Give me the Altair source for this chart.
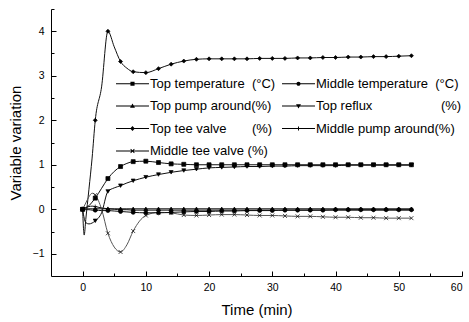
import altair as alt
import pandas as pd

# ---------------- data ----------------
T = [0, 0.25, 0.5, 1, 1.5, 2, 3, 4, 5, 6, 7, 8,
     10, 12, 14, 16, 18, 20, 22, 24, 26, 28, 30, 32, 34, 36, 38, 40,
     42, 44, 46, 48, 50, 52]

NB = "\u00a0"
# legend order (filled column by column: left column first)
series_names = [
    "Top temperature" + NB * 2 + "(°C)",
    "Top pump around(%)",
    "Top tee valve" + NB * 7 + "(%)",
    "Middle tee valve (%)",
    "Middle temperature" + NB * 2 + "(°C)",
    "Top reflux" + NB * 19 + "(%)",
    "Middle pump around(%)",
]

top_temperature = [0, 0.01, 0.03, 0.08, 0.16, 0.25, 0.47, 0.69, 0.85, 0.96, 1.03, 1.07,
                   1.08, 1.05, 1.02, 1.01, 1.0, 1.0, 1.0, 1.0, 1.0, 1.0, 1.0, 1.0,
                   1.0, 1.0, 1.0, 1.0, 1.0, 1.0, 1.0, 1.0, 1.0, 1.0]
top_pump_around = [0, 0, 0.01, 0.01, 0.01, 0.01, 0.01, 0.01, 0.01, 0.01, 0.01, 0.01,
                   0.01, 0.01, 0.01, 0.01, 0.01, 0.01, 0.01, 0.01, 0.01, 0.01, 0.01, 0.01,
                   0.01, 0.01, 0.01, 0.01, 0.01, 0.01, 0.01, 0.01, 0.01, 0.01]
top_tee_valve = [0, -0.58, -0.23, 0.45, 1.15, 2.0, 2.75, 4.0, 3.65, 3.32, 3.17, 3.09,
                 3.07, 3.16, 3.26, 3.33, 3.37, 3.38, 3.38, 3.38, 3.38, 3.39, 3.39, 3.39,
                 3.40, 3.40, 3.41, 3.41, 3.42, 3.42, 3.43, 3.43, 3.44, 3.45]
middle_tee_valve = [0, 0.07, 0.14, 0.28, 0.36, 0.32, 0.0, -0.54, -0.85, -0.96, -0.80, -0.49,
                    -0.14, -0.07, -0.08, -0.13, -0.14, -0.13, -0.12, -0.12, -0.13, -0.14,
                    -0.14, -0.15, -0.16, -0.16, -0.17, -0.18, -0.18, -0.19, -0.19, -0.20,
                    -0.20, -0.20]
middle_temperature = [0, 0, -0.01, -0.01, -0.02, -0.02, -0.03, -0.03, -0.04, -0.05, -0.06, -0.07,
                      -0.08, -0.08, -0.07, -0.06, -0.05, -0.05, -0.04, -0.04, -0.03, -0.03,
                      -0.03, -0.02, -0.02, -0.02, -0.02, -0.01, -0.01, -0.01, -0.01, -0.01,
                      -0.01, -0.01]
top_reflux = [0, -0.2, -0.3, -0.33, -0.31, -0.26, -0.08, 0.40, 0.48, 0.53, 0.59, 0.64,
              0.72, 0.78, 0.83, 0.87, 0.90, 0.93, 0.94, 0.95, 0.96, 0.96, 0.97, 0.97,
              0.98, 0.98, 0.98, 0.98, 0.99, 0.99, 0.99, 0.99, 0.99, 0.99]
middle_pump_around = [0, 0.02, 0.04, 0.06, 0.07, 0.06, 0.03, 0.01, 0.0, -0.01, -0.01, -0.02,
                      -0.02, -0.02, -0.02, -0.02, -0.02, -0.02, -0.02, -0.02, -0.02, -0.02,
                      -0.02, -0.02, -0.02, -0.02, -0.02, -0.02, -0.02, -0.02, -0.02, -0.02,
                      -0.02, -0.02]

x_major = [0, 10, 20, 30, 40, 50, 60]
x_minor = [5, 15, 25, 35, 45, 55]
y_major = [-1, 0, 1, 2, 3, 4]
y_minor = [-0.5, 0.5, 1.5, 2.5, 3.5, 4.5]

all_series = [top_temperature, top_pump_around, top_tee_valve, middle_tee_valve,
              middle_temperature, top_reflux, middle_pump_around]
rows = []
for name, vals in zip(series_names, all_series):
    for t, v in zip(T, vals):
        rows.append({"t": t, "value": v, "series": name})
df = pd.DataFrame(rows)

# ---------------- styling ----------------
W, H = 411, 267
FONT = "Liberation Sans"

xscale = alt.Scale(domain=[-5, 60], nice=False, zero=False)
yscale = alt.Scale(domain=[-1.5, 4.5], nice=False, zero=False)

line_colors = ["#111111", "#111111", "#111111", "#555555", "#111111", "#111111", "#111111"]
marker_shapes = ["square", "triangle-up", "diamond", "M-1,-1L1,1M-1,1L1,-1",
                 "circle", "triangle-down", "M-1,0H1M0,-1V1"]
# all sub-paths drawn clockwise so that nothing punches holes (nonzero fill)
BAR = "M-4,-0.12H4V0.12H-4Z"
legend_paths = [
    BAR + "M-0.5,-0.5H0.5V0.5H-0.5Z",
    BAR + "M0,-0.6L0.6,0.45H-0.6Z",
    BAR + "M0,-0.6L0.55,0L0,0.6L-0.55,0Z",
    BAR + "M0.38,0.52L-0.52,-0.38L-0.38,-0.52L0.52,0.38Z"
          "M0.52,-0.38L-0.38,0.52L-0.52,0.38L0.38,-0.52Z",
    BAR + "M-0.5,0A0.5,0.5 0 1,1 0.5,0A0.5,0.5 0 1,1 -0.5,0Z",
    BAR + "M0,0.6L-0.6,-0.45H0.6Z",
    BAR + "M-0.12,-0.5H0.12V0.5H-0.12Z",
]

lines = alt.Chart(df).mark_line(interpolate="monotone", strokeWidth=1).encode(
    x=alt.X("t:Q", scale=xscale,
            axis=alt.Axis(values=x_major, ticks=False, tickSize=0, grid=False,
                          domainColor="black", domainWidth=1, labelPadding=6,
                          labelFontSize=10.5, labelColor="black", title="Time (min)",
                          titleFontSize=15, titleFontWeight="normal", titleColor="black",
                          titlePadding=10)),
    y=alt.Y("value:Q", scale=yscale,
            axis=alt.Axis(values=y_major, ticks=False, tickSize=0, grid=False,
                          domainColor="black", domainWidth=1, labelPadding=7,
                          labelFontSize=10.5, labelColor="black",
                          title="Variable variation", titleFontSize=15,
                          titleFontWeight="normal", titleColor="black", titlePadding=9)),
    color=alt.Color("series:N", scale=alt.Scale(domain=series_names, range=line_colors),
                    legend=None),
)

points = alt.Chart(df).transform_filter("datum.t % 2 === 0").mark_point(
    filled=True, fill="black", stroke="black", strokeWidth=0.7, size=16, opacity=1
).encode(
    x=alt.X("t:Q", axis=None),
    y=alt.Y("value:Q", axis=None),
    shape=alt.Shape("series:N", scale=alt.Scale(domain=series_names, range=marker_shapes),
                    legend=None),
)

legend_layer = alt.Chart(df).transform_filter("false").mark_point(
    filled=True, fill="black", opacity=1, size=68
).encode(
    shape=alt.Shape("series:N", scale=alt.Scale(domain=series_names, range=legend_paths),
                    legend=alt.Legend(title=None, orient="none", legendX=75, legendY=68,
                                      columns=2, labelFont=FONT, labelFontSize=13,
                                      labelColor="black", symbolSize=68,
                                      symbolFillColor="black", symbolOpacity=1,
                                      labelOffset=11, rowPadding=8.5, columnPadding=3,
                                      labelLimit=0)),
)


def x_ticks(vals, size):
    return alt.Chart(df).transform_filter("false").mark_point().encode(
        x=alt.X("t:Q", axis=alt.Axis(orient="top", offset=-H, values=vals, tickSize=size,
                                     labels=False, domain=False, grid=False, title=None,
                                     ticks=True, tickColor="black", tickWidth=1)))


def y_ticks(vals, size):
    return alt.Chart(df).transform_filter("false").mark_point().encode(
        y=alt.Y("value:Q", axis=alt.Axis(orient="right", offset=-W, values=vals,
                                         tickSize=size, labels=False, domain=False,
                                         grid=False, title=None, ticks=True,
                                         tickColor="black", tickWidth=1)))


chart = alt.layer(
    lines, points, legend_layer,
    x_ticks(x_major, 5), x_ticks(x_minor, 3),
    y_ticks(y_major, 5), y_ticks(y_minor, 3),
).resolve_scale(shape="independent").resolve_axis(
    x="independent", y="independent"
).properties(
    width=W, height=H,
    autosize=alt.AutoSizeParams(type="none"),
    padding={"left": 51, "top": 9, "right": 7, "bottom": 46},
    background="white",
).configure_view(stroke=None).configure_axis(
    labelFont=FONT, titleFont=FONT
)

chart.save("out.html", embed_options={"renderer": "svg", "actions": False})
